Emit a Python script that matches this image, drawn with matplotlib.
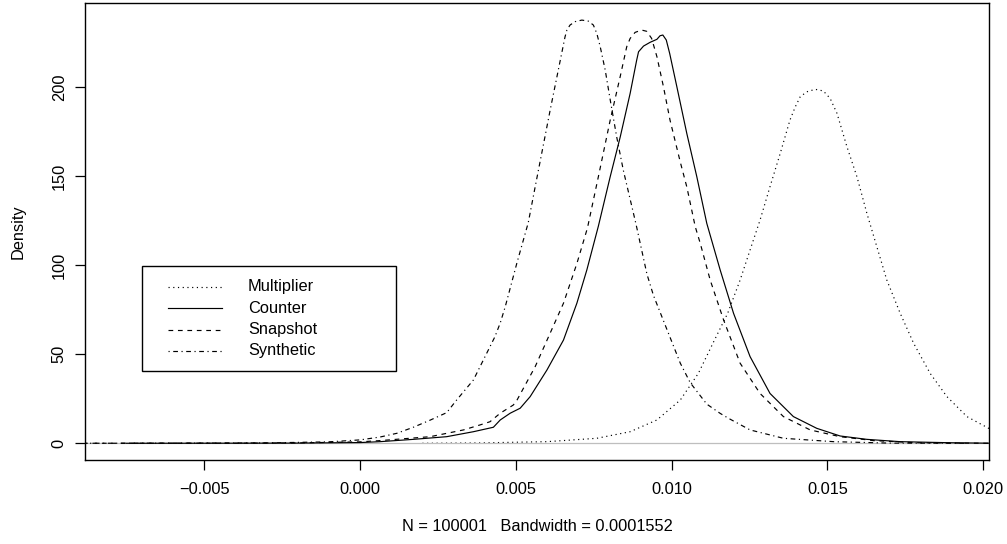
import matplotlib
matplotlib.use("Agg")
import matplotlib.pyplot as plt
from matplotlib.lines import Line2D
from matplotlib.patches import Rectangle

plt.rcParams["font.family"] = ["Liberation Sans", "DejaVu Sans"]

# Kernel density estimates (x = return, y = density) for each scheme
multiplier_x = [0.002, 0.00385, 0.006, 0.0076, 0.00867, 0.00953, 0.01028, 0.01086,
                0.01135, 0.0118, 0.0122, 0.01252, 0.01284, 0.01316, 0.01349, 0.0138,
                0.01397, 0.01413, 0.01434, 0.01461, 0.01487, 0.01509, 0.01531, 0.01563,
                0.01595, 0.01627, 0.01659, 0.01691, 0.01734, 0.01777, 0.0183, 0.01884,
                0.01948, 0.02018, 0.021]
multiplier_y = [0.0, 0.2, 0.9, 2.8, 6.5, 13.1, 24.3, 39.3,
                57.0, 73.0, 91.7, 108.6, 125.4, 144.2, 163.0, 181.6,
                189.0, 194.7, 197.5, 198.9, 198.0, 193.8, 185.4, 166.6,
                149.8, 129.2, 110.4, 91.7, 73.0, 56.2, 39.3, 26.2,
                15.0, 8.4, 4.0]

counter_x = [-0.0075, -0.004, -0.002, 0.0, 0.00064, 0.00171, 0.00278, 0.00364,
             0.00428, 0.0045, 0.00482, 0.00514, 0.00546, 0.006, 0.00653, 0.00696,
             0.00728, 0.00765, 0.00803, 0.00835, 0.00867, 0.00888, 0.00894, 0.0091,
             0.00931, 0.00953, 0.00963, 0.00972, 0.00983, 0.00994, 0.01017, 0.01049,
             0.01081, 0.01113, 0.01156, 0.01199, 0.01252, 0.01316, 0.01391, 0.01466,
             0.01541, 0.01627, 0.01734, 0.01894, 0.0202]
counter_y = [0.0, 0.05, 0.1, 0.4, 0.9, 2.2, 3.7, 6.5,
             9.0, 13.1, 16.9, 19.7, 26.2, 41.2, 58.0, 78.7,
             97.4, 122.0, 149.8, 172.0, 196.6, 215.3, 220.0, 223.2,
             225.3, 227.0, 229.0, 229.4, 226.6, 219.0, 200.3, 174.0,
             149.8, 123.6, 97.4, 73.0, 48.7, 28.0, 15.0, 8.4,
             4.1, 2.2, 0.9, 0.3, 0.05]

snapshot_x = [-0.0095, -0.004, -0.002, 0.0, 0.00064, 0.00225, 0.00332, 0.00385,
              0.00417, 0.0045, 0.00492, 0.00503, 0.00562, 0.0061, 0.00653, 0.00696,
              0.0073, 0.00765, 0.00803, 0.00835, 0.00856, 0.00867, 0.00883, 0.00904,
              0.0092, 0.00936, 0.00953, 0.00974, 0.00995, 0.01028, 0.01049, 0.01076,
              0.01092, 0.01124, 0.01167, 0.0122, 0.01284, 0.01359, 0.01445, 0.01541,
              0.01648, 0.01788, 0.0202]
snapshot_y = [0.0, 0.05, 0.2, 0.8, 1.5, 3.7, 7.5, 10.3,
              12.1, 16.9, 21.5, 24.0, 43.0, 61.8, 78.7, 101.0,
              121.0, 149.8, 181.6, 206.0, 222.8, 227.5, 230.9, 232.2,
              231.5, 227.5, 217.2, 200.3, 181.6, 158.0, 144.0, 121.7,
              112.4, 91.7, 69.3, 45.0, 28.0, 15.0, 7.5, 3.7,
              1.5, 0.3, 0.0]

synthetic_x = [-0.0095, -0.006, -0.003, -0.001, 0.0, 0.00064, 0.00118, 0.00171,
               0.00225, 0.00278, 0.0031, 0.00364, 0.00385, 0.00433, 0.0045, 0.00466,
               0.00503, 0.0054, 0.00562, 0.0061, 0.00658, 0.00664, 0.00674, 0.0069,
               0.00712, 0.00733, 0.00749, 0.0076, 0.00771, 0.00787, 0.00803, 0.00824,
               0.00845, 0.00886, 0.00921, 0.00942, 0.00985, 0.01028, 0.0106, 0.01113,
               0.01156, 0.01183, 0.01252, 0.01359, 0.0152, 0.017, 0.0195]
synthetic_y = [0.0, 0.05, 0.2, 0.8, 1.9, 3.5, 5.6, 9.0,
               13.0, 17.2, 24.3, 35.6, 43.0, 59.9, 67.6, 76.7,
               101.0, 124.0, 144.0, 187.0, 228.4, 232.2, 235.0, 236.9,
               237.8, 237.2, 235.0, 230.3, 222.8, 209.7, 193.0, 172.0,
               153.5, 123.0, 95.0, 83.0, 64.0, 45.0, 34.0, 22.0,
               16.8, 14.0, 7.5, 2.8, 0.9, 0.1, 0.0]

series_names = ["Multiplier", "Counter", "Snapshot", "Synthetic"]
x_ticks = [-0.005, 0.000, 0.005, 0.010, 0.015, 0.020]
x_tick_labels = ["\u22120.005", "0.000", "0.005", "0.010", "0.015", "0.020"]
y_ticks = [0, 50, 100, 150, 200]
y_label = "Density"
x_label = "N = 100001   Bandwidth = 0.0001552"

line_styles = [(0, (1, 3)), "-", (0, (4, 4)), (0, (1, 3, 4, 3))]
LW = 0.85
FS = 11.8

fig = plt.figure(figsize=(10.07, 5.44), dpi=100)
W, H = 1007, 544
ax_left, ax_right, ax_top, ax_bottom = 85, 989, 3, 460
ax = fig.add_axes([ax_left / W, 1 - ax_bottom / H,
                   (ax_right - ax_left) / W, (ax_bottom - ax_top) / H])

series = [(multiplier_x, multiplier_y), (counter_x, counter_y),
          (snapshot_x, snapshot_y), (synthetic_x, synthetic_y)]

# first curve, then the grey zero line, then the remaining curves on top
ax.plot(series[0][0], series[0][1], color="black", lw=LW, ls=line_styles[0], zorder=2)
ax.axhline(0, color="#bebebe", lw=0.9, zorder=2.5)
for (xs, ys), ls in zip(series[1:], line_styles[1:]):
    ax.plot(xs, ys, color="black", lw=LW, ls=ls, zorder=3)

ax.set_xlim(-0.00883, 0.02019)
ax.set_ylim(-9.4, 247.4)

ax.set_xticks(x_ticks)
ax.set_xticklabels(x_tick_labels)
ax.set_yticks(y_ticks)
ax.set_yticklabels([str(v) for v in y_ticks], rotation=90, va="center")

ax.tick_params(axis="both", direction="out", length=7.2, width=0.9,
               labelsize=FS, colors="black")
ax.tick_params(axis="x", pad=8.5)
ax.tick_params(axis="y", pad=6)
for s in ax.spines.values():
    s.set_linewidth(1.0)
    s.set_color("black")

ax.set_ylabel(y_label, fontsize=FS)
ax.yaxis.set_label_coords((18 - ax_left) / (ax_right - ax_left), 0.5)
ax.yaxis.label.set_va("center")
ax.set_xlabel(x_label, fontsize=FS)
ax.xaxis.set_label_coords(0.5, (ax_bottom - 526.7) / (ax_bottom - ax_top))
ax.xaxis.label.set_va("center")

# legend box drawn in axes coordinates
def ax_x(px):
    return (px - ax_left) / (ax_right - ax_left)

def ax_y(py):
    return (ax_bottom - py) / (ax_bottom - ax_top)

box_l, box_r, box_t, box_b = 142, 396, 265.7, 371
ax.add_patch(Rectangle((ax_x(box_l), ax_y(box_b)), ax_x(box_r) - ax_x(box_l),
                       ax_y(box_t) - ax_y(box_b), transform=ax.transAxes,
                       facecolor="white", edgecolor="black", lw=1.0, zorder=5))
entry_rows = [286.7, 308.3, 329.7, 350.7]
for name, ls, row in zip(series_names, line_styles, entry_rows):
    ax.add_line(Line2D([ax_x(168), ax_x(222)], [ax_y(row), ax_y(row)],
                       transform=ax.transAxes, color="black", lw=LW, ls=ls, zorder=6))
    ax.text(ax_x(248), ax_y(row), name, transform=ax.transAxes, fontsize=FS,
            va="center", ha="left", zorder=6)

fig.savefig("out.png", dpi=100)
